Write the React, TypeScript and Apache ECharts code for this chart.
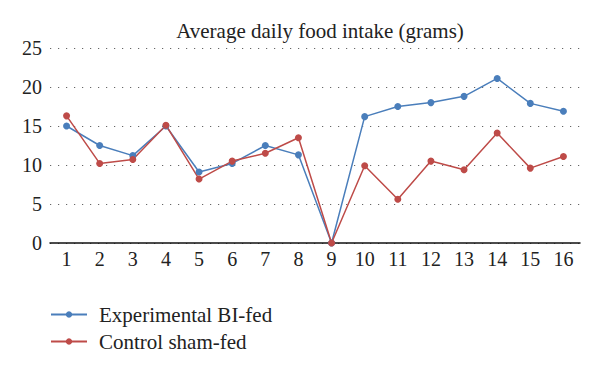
import React, { useEffect, useRef } from "react";
import * as echarts from "echarts";

const categories = ["1","2","3","4","5","6","7","8","9","10","11","12","13","14","15","16"];
const experimental = [15.0, 12.5, 11.2, 15.0, 9.1, 10.2, 12.5, 11.3, 0, 16.2, 17.5, 18.0, 18.8, 21.1, 17.9, 16.9];
const control = [16.3, 10.2, 10.7, 15.1, 8.2, 10.5, 11.5, 13.5, 0, 9.9, 5.6, 10.5, 9.4, 14.1, 9.6, 11.1];
const seriesNames = ["Experimental BI-fed", "Control sham-fed"];
const titleText = "Average daily food intake (grams)";

const FONT = "Liberation Serif";

export default function App() {
  const ref = useRef<HTMLDivElement>(null);
  useEffect(() => {
    const chart = echarts.init(ref.current!, undefined, { renderer: "svg" });
    chart.setOption({
      animation: false,
      backgroundColor: "#ffffff",
      textStyle: { fontFamily: FONT },
      title: {
        text: titleText,
        left: 315,
        textAlign: "center",
        top: 15,
        textStyle: { fontFamily: FONT, fontSize: 21, fontWeight: "normal", color: "#222" },
      },
      legend: {
        orient: "vertical",
        left: 45,
        top: 299,
        itemWidth: 36,
        itemHeight: 8,
        itemGap: 6,
        textStyle: { fontFamily: FONT, fontSize: 21, color: "#222", padding: [0, 0, 0, 7] },
        data: seriesNames,
      },
      grid: { left: 50, right: 20, top: 48, height: 195, containLabel: false },
      xAxis: {
        type: "category",
        data: categories,
        boundaryGap: true,
        axisLine: { show: true, lineStyle: { color: "#111", width: 1.5 } },
        axisTick: { show: false },
        axisLabel: { fontFamily: FONT, fontSize: 20, color: "#222", margin: 6 },
        splitLine: { show: false },
      },
      yAxis: {
        type: "value",
        min: 0,
        max: 25,
        interval: 5,
        axisLine: { show: false },
        axisTick: { show: false },
        axisLabel: { fontFamily: FONT, fontSize: 20, color: "#222", margin: 8 },
        splitLine: { show: true, lineStyle: { color: "#666", type: [1.2, 6.8], width: 1.2 } },
      },
      series: [
        {
          name: seriesNames[0],
          type: "line",
          data: experimental,
          symbol: "circle",
          symbolSize: 7,
          itemStyle: { color: "#4a7ebb" },
          lineStyle: { color: "#4a7ebb", width: 1.5 },
        },
        {
          name: seriesNames[1],
          type: "line",
          data: control,
          symbol: "circle",
          symbolSize: 7,
          itemStyle: { color: "#be4b48" },
          lineStyle: { color: "#be4b48", width: 1.5 },
        },
      ],
    });
    return () => chart.dispose();
  }, []);
  return <div ref={ref} style={{ width: 600, height: 370, margin: -8 }} />;
}
